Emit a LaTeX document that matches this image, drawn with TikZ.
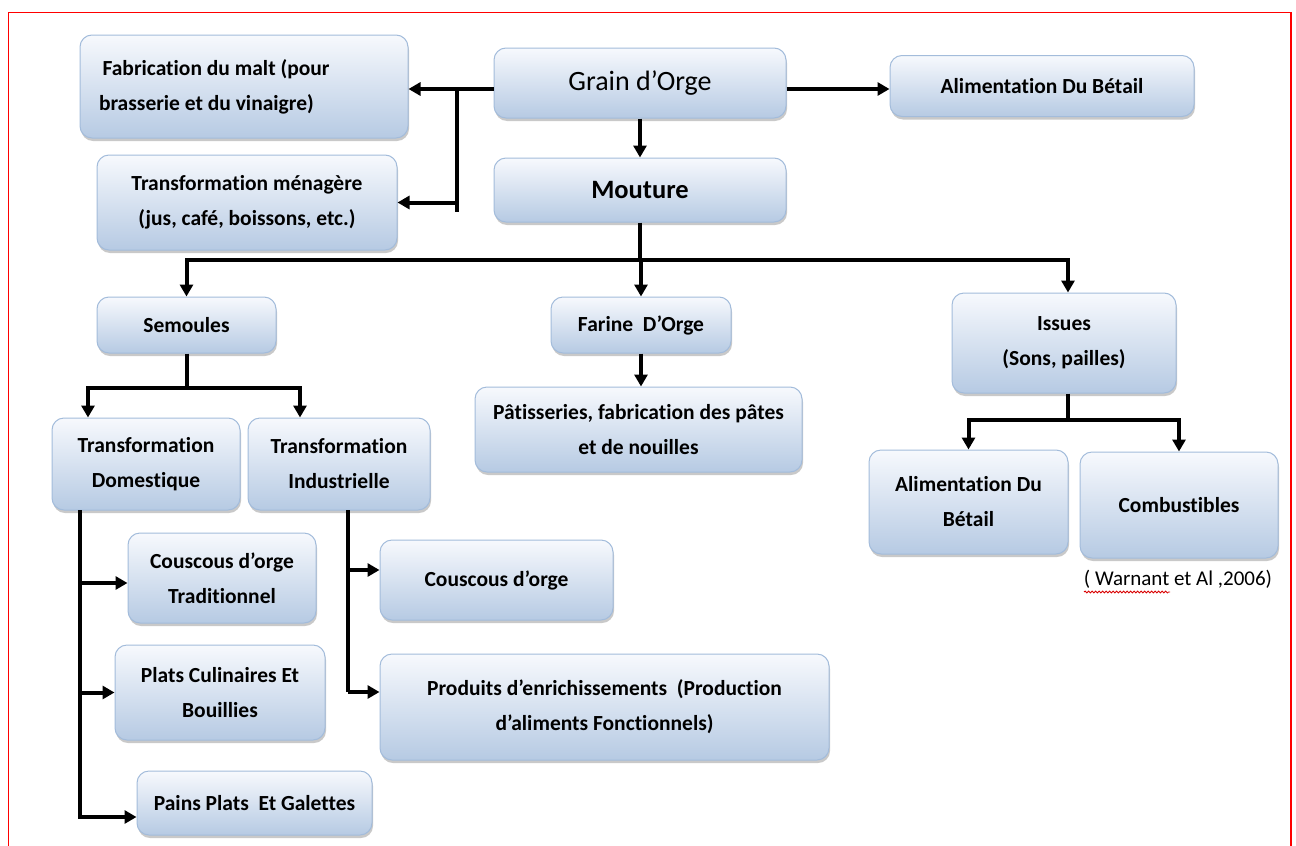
\documentclass[tikz,border=0pt]{standalone}
\usepackage{fontspec}
\setmainfont{Carlito}[Ligatures=NoCommon]
\usetikzlibrary{arrows.meta,shadows,decorations.pathmorphing}
\definecolor{boxtop}{HTML}{F7F9FD}
\definecolor{boxbot}{HTML}{B6CAE3}
\definecolor{boxline}{HTML}{A3BCDB}
\tikzset{
  box/.style={draw=boxline, line width=1pt, rounded corners=12pt,
    top color=boxtop, bottom color=boxbot,
    drop shadow={shadow xshift=1pt, shadow yshift=-3pt, opacity=0.35, fill=black!60},
    align=center, inner sep=0pt,
    font=\bfseries\fontsize{21.5}{35}\selectfont},
  wire/.style={line width=4pt, line join=miter},
  conn/.style={line width=4pt, line join=miter, -{Triangle[length=12pt,width=13pt]}},
}
\begin{document}
\begin{tikzpicture}[x=1pt,y=-1pt]
\useasboundingbox (0,0) rectangle (1296,846);
\fill[white] (0,0) rectangle (1296,846);
\draw[red, line width=1.2pt] (8.5,846) -- (8.5,12.5) -- (1291,12.5) -- (1291,846);

% nodes
\node[box, minimum width=328, minimum height=103, text width=290, inner xsep=19pt, align=flush left] (fab) at (244,86.5) {\,Fabrication du malt (pour\\brasserie et du vinaigre)};
\node[box, minimum width=300, minimum height=95] (men) at (247,202.5) {Transformation ménagère\\(jus, café, boissons, etc.)};
\node[box, minimum width=292, minimum height=70, font=\fontsize{28}{32}\selectfont] (grain) at (640,83) {Grain d’Orge};
\node[box, minimum width=304, minimum height=61] (alim1) at (1042,86) {Alimentation Du Bétail};
\node[box, minimum width=292, minimum height=64, font=\bfseries\fontsize{26.5}{32}\selectfont] (mout) at (640,190) {Mouture};
\node[box, minimum width=179, minimum height=56] (sem) at (186.5,325) {Semoules};
\node[box, minimum width=180, minimum height=56] (far) at (641,325) {Farine\ \ D’Orge};
\node[box, minimum width=224, minimum height=100] (iss) at (1064,343) {Issues\\(Sons, pailles)};
\node[box, minimum width=327, minimum height=85] (pat) at (638.5,429.5) {Pâtisseries, fabrication des pâtes\\et de nouilles};
\node[box, minimum width=188, minimum height=92] (tdom) at (146,464) {Transformation\\Domestique};
\node[box, minimum width=182, minimum height=92] (tind) at (339,464) {Transformation\\Industrielle};
\node[box, minimum width=199, minimum height=104] (alim2) at (968.5,502) {Alimentation Du\\Bétail};
\node[box, minimum width=198, minimum height=106] (comb) at (1179,505) {Combustibles};
\node[box, minimum width=188, minimum height=90] (ctrad) at (222,578) {Couscous d’orge\\Traditionnel};
\node[box, minimum width=233, minimum height=80] (cind) at (496.5,580) {Couscous d’orge};
\node[box, minimum width=210, minimum height=95] (plats) at (220,692.5) {Plats Culinaires Et\\Bouillies};
\node[box, minimum width=449, minimum height=106] (prod) at (604.5,707) {Produits d’enrichissements\ \ (Production\\d’aliments Fonctionnels)};
\node[box, minimum width=235, minimum height=64] (pains) at (254.5,803) {Pains Plats\ \ Et Galettes};
\node[font=\fontsize{21}{24}\selectfont, inner sep=0pt] (cite) at (1178,579) {( Warnant et Al ,2006)};
\draw[red!85!black, line width=0.8pt, decorate, decoration={snake, amplitude=1pt, segment length=3.5pt}] (1084,592) -- (1170,592);

% connectors
\coordinate (j1) at (457,89);
\coordinate (j2) at (457,212);
\draw[conn] ([yshift=-6pt]grain.west) -- ([yshift=-6pt]grain.west -| fab.east);
\draw[wire] (j1) -- (j2);
\draw[conn] (j1 |- men.east) -- (men.east);
\draw[conn] ([yshift=-6pt]grain.east) -- ([yshift=-6pt]grain.east -| alim1.west);
\draw[conn] (grain.south) -- (mout.north);

\coordinate (m1) at (640,260);
\draw[wire] (mout.south) -- (m1);
\draw[conn] (m1) -| (sem.north);
\draw[conn] (m1) -| ([xshift=4pt]iss.north);
\draw[conn] (m1) -- (m1 -| far.north) -- (far.north);

\coordinate (s1) at (187,388);
\draw[wire] (sem.south -| s1) -- (s1);
\draw[conn] (s1) -| ([xshift=-58pt]tdom.north);
\draw[conn] (s1) -| ([xshift=-39pt]tind.north);

\draw[conn] (far.south) -- (pat.north -| far.south);

\coordinate (i1) at (1068,420);
\draw[wire] (iss.south -| i1) -- (i1);
\draw[conn] (i1) -| (alim2.north);
\draw[conn] (i1) -| (comb.north);

\coordinate (d0) at (80,510);
\draw[wire] (d0) -- (80,817);
\draw[conn] (d0 |- ctrad.west) ++(0,5) -- ([yshift=-5pt]ctrad.west);
\draw[conn] (d0 |- plats.west) -- (plats.west);
\draw[conn] (d0) |- ([yshift=-14pt]pains.west);

\coordinate (t0) at (348,510);
\draw[wire] (t0) -- (348,692);
\draw[conn] ([yshift=10pt]t0 |- cind.west) -- ([yshift=10pt]cind.west);
\draw[conn] ([yshift=15pt]t0 |- prod.west) -- ([yshift=15pt]prod.west);
\end{tikzpicture}
\end{document}
